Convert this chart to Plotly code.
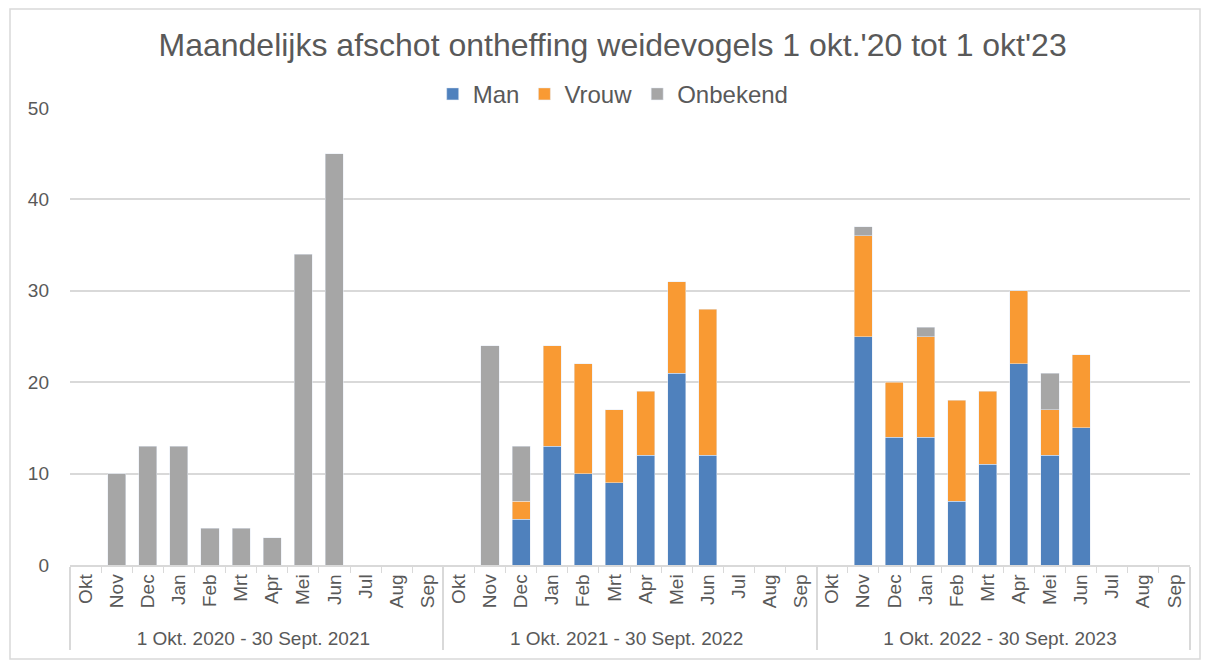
import plotly.graph_objects as go

months = ["Okt", "Nov", "Dec", "Jan", "Feb", "Mrt", "Apr", "Mei", "Jun", "Jul", "Aug", "Sep"]
periods = ["1 Okt. 2020 - 30 Sept. 2021", "1 Okt. 2021 - 30 Sept. 2022", "1 Okt. 2022 - 30 Sept. 2023"]

man = [None, None, None, None, None, None, None, None, None, None, None, None,
       None, None, 5, 13, 10, 9, 12, 21, 12, None, None, None,
       None, 25, 14, 14, 7, 11, 22, 12, 15, None, None, None]
vrouw = [None, None, None, None, None, None, None, None, None, None, None, None,
         None, None, 2, 11, 12, 8, 7, 10, 16, None, None, None,
         None, 11, 6, 11, 11, 8, 8, 5, 8, None, None, None]
onbekend = [None, 10, 13, 13, 4, 4, 3, 34, 45, None, None, None,
            None, 24, 6, None, None, None, None, None, None, None, None, None,
            None, 1, None, 1, None, None, None, 4, None, None, None, None]

x_outer = [p for p in periods for _ in months]
x_inner = [m for _ in periods for m in months]
x = [x_outer, x_inner]

fig = go.Figure()
fig.add_trace(go.Bar(x=x, y=man, name="Man", marker_color="#4F81BD"))
fig.add_trace(go.Bar(x=x, y=vrouw, name="Vrouw", marker_color="#F99A33"))
fig.add_trace(go.Bar(x=x, y=onbekend, name="Onbekend", marker_color="#A6A6A6"))

grey = "#595959"
W, H = 1202, 654
fig.update_layout(
    barmode="stack",
    bargap=0.42,
    width=W, height=H,
    margin=dict(l=62, r=20, t=100, b=97, autoexpand=False),
    paper_bgcolor="white", plot_bgcolor="white",
    font=dict(family="Liberation Sans, Arial", color=grey),
    title=dict(text="Maandelijks afschot ontheffing weidevogels 1 okt.'20 tot 1 okt'23",
               x=0.503, xanchor="center", y=1 - 37 / H, yanchor="middle",
               font=dict(size=32, color=grey)),
    legend=dict(orientation="h", x=0.485, xanchor="center", y=1.03, yanchor="middle",
                font=dict(size=24, color=grey), traceorder="normal",
                itemwidth=30, bgcolor="rgba(0,0,0,0)"),
    showlegend=True,
)
fig.update_yaxes(range=[0, 50], dtick=10, showgrid=True, gridcolor="#D9D9D9", gridwidth=1.5,
                 zeroline=False, showline=False, tickfont=dict(size=19, color=grey),
                 ticks="", ticklabelstandoff=20, automargin=False)
fig.update_xaxes(type="multicategory", tickangle=-90, tickfont=dict(size=19, color=grey),
                 showline=True, linecolor="#D9D9D9", linewidth=1.5,
                 ticks="outside", tickson="boundaries", ticklen=6, tickcolor="#D9D9D9",
                 showdividers=True, dividercolor="#D9D9D9", dividerwidth=1.5,
                 showgrid=False, automargin=False)
fig.add_shape(type="rect", xref="paper", yref="paper",
              x0=-60 / 1120, x1=1 + 10 / 1120, y0=-94 / 457, y1=1 + 99 / 457,
              line=dict(color="#D9D9D9", width=1.5))
fig.write_html("out.html")
